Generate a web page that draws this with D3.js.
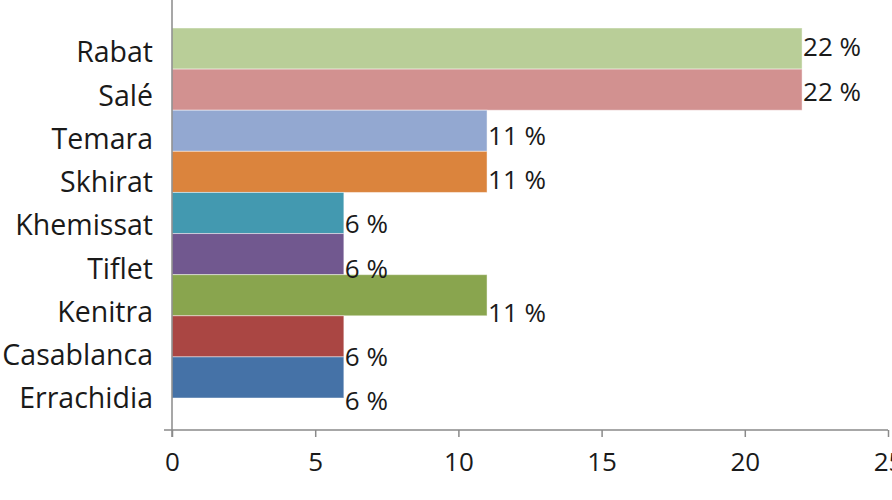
<!DOCTYPE html>
<html>
<head>
<meta charset="utf-8">
<script src="https://cdn.jsdelivr.net/npm/d3@7"></script>
<style>
  html, body { margin: 0; padding: 0; background: #fff; }
  svg { display: block; }
</style>
</head>
<body>
<script>
// Data (top to bottom as drawn)
const categories = ["Rabat", "Salé", "Temara", "Skhirat", "Khemissat", "Tiflet", "Kenitra", "Casablanca", "Errachidia"];
const values = [22, 22, 11, 11, 6, 6, 11, 6, 6];
const valueLabels = ["22 %", "22 %", "11 %", "11 %", "6 %", "6 %", "11 %", "6 %", "6 %"];
const colors = ["#B9CE98", "#D29190", "#93A8D1", "#DB843D", "#4399B0", "#71588F", "#89A54E", "#AA4643", "#4572A7"];
const xTicks = [0, 5, 10, 15, 20, 25];

const W = 892, H = 500;
const svg = d3.select("body").append("svg").attr("width", W).attr("height", H);

const x = d3.scaleLinear().domain([0, 25]).range([172, 888]);
const yBar = d3.scaleBand().domain(categories).range([28, 398]).padding(0);
const yLab = d3.scalePoint().domain(categories).range([52, 398]);
const yVal = d3.scalePoint().domain(categories).range([47, 401]);

const font = "'Open Sans', 'DejaVu Sans', sans-serif";

// Bars
svg.append("g").selectAll("rect")
  .data(categories)
  .join("rect")
  .attr("x", x(0))
  .attr("y", d => yBar(d))
  .attr("width", (d, i) => x(values[i]) - x(0))
  .attr("height", yBar.bandwidth())
  .attr("fill", (d, i) => colors[i])
  .attr("stroke", "rgba(255,255,255,0.45)")
  .attr("stroke-width", 1);

// Category labels
svg.append("g").selectAll("text")
  .data(categories)
  .join("text")
  .attr("x", 153)
  .attr("y", d => yLab(d))
  .attr("dy", "0.36em")
  .attr("text-anchor", "end")
  .attr("font-family", font)
  .attr("font-size", 28.5)
  .attr("fill", "#1a1a1a")
  .text(d => d);

// Value labels
svg.append("g").selectAll("text")
  .data(categories)
  .join("text")
  .attr("x", (d, i) => x(values[i]) + 1)
  .attr("y", d => yVal(d))
  .attr("dy", "0.36em")
  .attr("text-anchor", "start")
  .attr("font-family", font)
  .attr("font-size", 26)
  .attr("fill", "#1a1a1a")
  .text((d, i) => valueLabels[i]);

// X axis
const xAxis = d3.axisBottom(x).tickValues(xTicks).tickSize(7).tickPadding(16).tickSizeOuter(0);
const gx = svg.append("g").attr("transform", "translate(0,430)").call(xAxis);
gx.select(".domain").attr("stroke", "#8a8a8a").attr("stroke-width", 1.5)
  .attr("d", `M${x(0) - 8},0H${x(25)}`);
gx.selectAll(".tick line").attr("stroke", "#8a8a8a").attr("stroke-width", 1.5);
gx.selectAll(".tick text")
  .attr("font-family", font)
  .attr("font-size", 26)
  .attr("fill", "#1a1a1a");

// Y axis line
const yAxisScale = d3.scaleLinear().domain([0, 1]).range([430, 0]);
const gy = svg.append("g").attr("transform", `translate(${x(0)},0)`)
  .call(d3.axisLeft(yAxisScale).tickValues([]).tickSizeOuter(0));
gy.select(".domain").attr("stroke", "#8a8a8a").attr("stroke-width", 1.5)
  .attr("d", "M0,0V437");
</script>
</body>
</html>
